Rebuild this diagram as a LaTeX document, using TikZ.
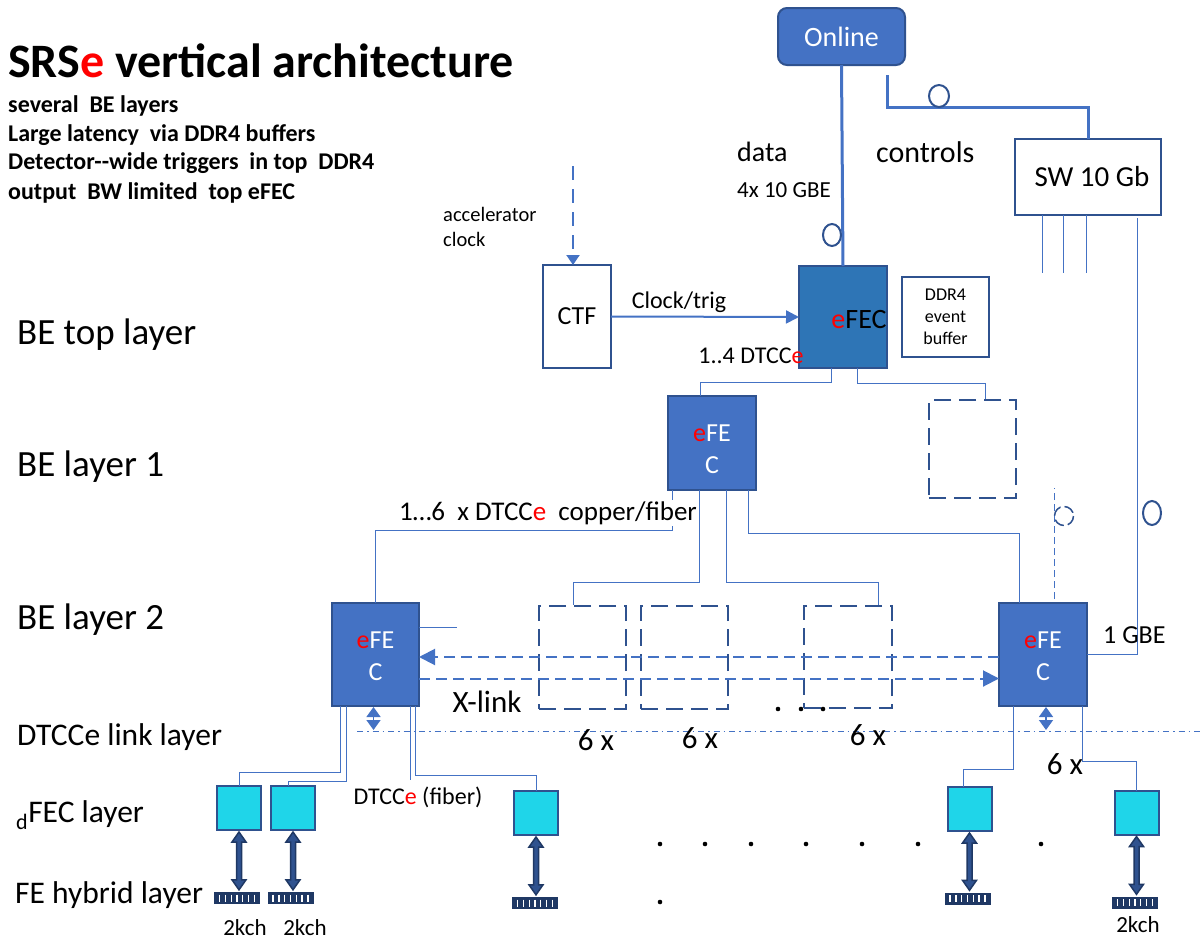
\documentclass[tikz,border=0pt]{standalone}
\usepackage{fontspec}
\setmainfont{Carlito}
\usetikzlibrary{arrows.meta,calc}
\definecolor{mblue}{HTML}{4472C4}
\definecolor{dblue}{HTML}{2F528F}
\definecolor{tblue}{HTML}{2E75B6}
\definecolor{cyanf}{HTML}{1FD5E9}
\definecolor{navy}{HTML}{1F3864}
\definecolor{ared}{HTML}{FF0000}
\newcommand\fs[1]{\fontsize{#1}{#1}\selectfont}
\newcommand\re{\textcolor{ared}{e}}
\newcommand\bidirarrow[2]{%
  \path (#1) coordinate (ba) (#2) coordinate (bb);
  \draw[bidirst] let \p1=(ba), \p2=(bb) in
    (\x1,\y1) -- (\x1+7pt,\y1-10pt) -- (\x1+2.5pt,\y1-10pt) -- (\x1+2.5pt,\y2+10pt)
    -- (\x1+7pt,\y2+10pt) -- (\x1,\y2) -- (\x1-7pt,\y2+10pt) -- (\x1-2.5pt,\y2+10pt)
    -- (\x1-2.5pt,\y1-10pt) -- (\x1-7pt,\y1-10pt) -- cycle;}
\begin{document}
\begin{tikzpicture}[x=1pt,y=-1pt,
  box/.style={draw=dblue, line width=2pt, inner sep=0pt, outer sep=0pt},
  fecbox/.style={box, fill=mblue},
  fectext/.style={text=white, font=\fontsize{26}{32}\selectfont, align=center, inner sep=0pt},
  dashbox/.style={draw=dblue, line width=2pt, dash pattern=on 17pt off 8pt, inner sep=0pt, minimum width=87, minimum height=103},
  conn/.style={draw=mblue, line width=1pt},
  thick conn/.style={draw=mblue, line width=3pt},
  dfec/.style={box, fill=cyanf, minimum width=44, minimum height=44},
  hyb/.style={fill=navy, inner sep=0pt, minimum width=46, minimum height=12},
  layerlab/.style={anchor=west, inner sep=0pt, font=\fs{31.5}},
  belab/.style={anchor=west, inner sep=0pt, font=\fs{37}},
  sub/.style={anchor=west, inner sep=0pt, font=\bfseries\fs{24}},
  txt/.style={inner sep=0pt},
  xl/.style={draw=mblue, line width=2pt, dash pattern=on 11pt off 6pt, -{Triangle[length=16pt,width=16pt]}},
  bidirst/.style={draw=navy, line width=1.5pt, fill=dblue},
  smallbi/.style={draw=mblue, line width=1.5pt, {Triangle[length=10pt,width=14pt]}-{Triangle[length=10pt,width=14pt]}},
  dot/.style={fill=black}
]
\useasboundingbox (0,0) rectangle (1203,945);

% Title and notes
\node[anchor=base west, inner sep=0pt, font=\bfseries\fs{48}] (title) at (8,77) {SRS\re\ vertical architecture};
\node[sub] (s1) at (8,106) {several\ \ BE layers};
\node[sub] (s2) at (8,135) {Large latency\ \ via DDR4 buffers};
\node[sub] (s3) at (8,163) {Detector-{}-wide triggers\ \ in top\ \ DDR4};
\node[sub] (s4) at (8,193) {output\ \ BW limited\ \ top eFEC};

% Layer labels
\node[belab] (l1) at (17,335) {BE top layer};
\node[belab] (l2) at (17,467) {BE layer 1};
\node[belab] (l3) at (17,620) {BE layer 2};
\node[layerlab] (l4) at (17,737) {DTCCe link layer};
\node[layerlab] (l5) at (16,815) {\textsubscript{d}FEC layer};
\node[layerlab] (l6) at (15,895) {FE hybrid layer};

% Online and switch
\node[box, fill=mblue, rounded corners=9pt, minimum width=127, minimum height=57, text=white, font=\fs{28}] (online) at (841.5,36.5) {Online};
\node[box, fill=white, minimum width=146, minimum height=76, font=\fs{29}] (sw) at (1088,177) {\hspace{8pt}SW 10 Gb};

% Top layer boxes
\node[box, fill=white, minimum width=68, minimum height=103, font=\fs{26}] (ctf) at (577,316.5) {CTF};
\node[box, fill=tblue, minimum width=88, minimum height=102] (efec) at (843,317) {};
\node[txt, font=\fs{28}] (efect) at (859,320) {\re FEC};
\node[box, fill=white, minimum width=87, minimum height=80, align=center, font=\fontsize{18}{22}\selectfont] (ddr) at (945.5,317) {DDR4\\event\\buffer};

% BE layer 1
\node[fecbox, minimum width=88, minimum height=94] (efec1) at (712,443) {};
\node[fectext] at ($(efec1.center)+(0,6)$) {\re FE\\C};
\node[dashbox, minimum width=87, minimum height=98] (db0) at (972.5,449) {};

% BE layer 2
\node[fecbox, minimum width=87, minimum height=103] (efec2l) at (375.5,654.5) {};
\node[fectext] at ($(efec2l.center)+(0,2)$) {\re FE\\C};
\node[fecbox, minimum width=88, minimum height=103] (efec2r) at (1043,654.5) {};
\node[fectext] at ($(efec2r.center)+(0,2)$) {\re FE\\C};
\node[dashbox] (dba) at (582.5,657.5) {};
\node[dashbox] (dbb) at (684.5,657.5) {};
\node[dashbox, minimum width=88, minimum height=102] (dbc) at (848,657) {};

% dFEC boxes
\node[dfec] (d1) at (239,808) {};
\node[dfec] (d2) at (293,808) {};
\node[dfec] (d3) at (536,813) {};
\node[dfec] (d4) at (969.5,809) {};
\node[dfec] (d5) at (1136.5,812.5) {};

% hybrids
\node[hyb] (h1) at (237,898) {};
\node[hyb] (h2) at (290.5,898) {};
\node[hyb] (h3) at (535,903) {};
\node[hyb] (h4) at (967.5,898.5) {};
\node[hyb] (h5) at (1135,902.5) {};
\foreach \h in {h1,h2,h3,h4,h5}{
  \foreach \k in {1,...,7}{
    \draw[white, line width=1.3pt] ($(\h.west)!{\k/8}!(\h.east)$) +(0,-3.5) -- +(0,3.5);
  }
}

% data / controls
\draw[thick conn] (online.south) -- (efec.north);
\draw[dblue, line width=2pt] (832,235) ellipse (9 and 11);
\coordinate (ctlsrc) at (887,75);
\draw[thick conn] (ctlsrc) |- ($(sw.north)+(0,-32)$) -- (sw.north);
\draw[dblue, line width=2pt] (939,96) ellipse (10 and 11);
\node[txt, font=\fs{28}, anchor=west] (datal) at (737,152) {data};
\node[txt, font=\fs{23}, anchor=west] (gbel) at (737,190) {4x 10 GBE};
\node[txt, font=\fs{30}, anchor=west] (ctll) at (876,152) {controls};

% switch outputs
\draw[conn] ($(sw.south west)+(27,0)$) -- ++(0,58);
\draw[conn] ($(sw.south west)+(48,0)$) -- ++(0,58);
\draw[conn] ($(sw.south west)+(71,0)$) -- ++(0,58);
\coordinate (swout) at ($(sw.south west)+(122,3)$);
\draw[conn] (swout) |- (efec2r.east);
\draw[dblue, line width=2pt] (1152,513) ellipse (9 and 12);
\node[txt, font=\fs{26}, anchor=west] (gbe1) at (1103,635) {1 GBE};

% clock
\coordinate (accsrc) at (573,166);
\draw[draw=mblue, line width=2pt, dash pattern=on 14pt off 9pt, -{Triangle[length=10pt,width=13pt]}] (accsrc) -- (accsrc |- ctf.north);
\node[txt, font=\fs{20.5}, anchor=west, align=left] (accl) at (443,227) {accelerator\\[4pt]clock};
\draw[draw=mblue, line width=2pt, -{Triangle[length=13pt,width=13pt]}] (ctf.east) -- (efec.west);
\node[txt, font=\fs{24}] (ctl) at (679,302) {Clock/trig};
\node[txt, font=\fs{24}] (dt4) at (751,356) {1..4 DTCC\re};

% top -> layer 1
\draw[conn] ($(efec.south west)+(32,0)$) -- ++(0,14) -| ($(efec1.north west)+(32,0)$);
\draw[conn] ($(efec.south west)+(58,0)$) -- ++(0,15) -| ($(db0.north west)+(57,0)$);

% layer 1 -> layer 2
\draw[conn] ($(efec1.south west)+(4,0)$) -- ++(0,40) -| (efec2l.north);
\draw[conn] ($(efec1.south west)+(31,0)$) -- ++(0,92) -| ($(dba.north west)+(35,0)$);
\draw[conn] ($(efec1.south west)+(58,0)$) -- ++(0,92) -| ($(dbc.north west)+(75,0)$);
\draw[conn] ($(efec1.south west)+(80,0)$) -- ++(0,43) -| ($(efec2r.north west)+(20,0)$);
\node[txt, font=\fs{27}, fill=white, inner sep=1pt] (dt6) at (548,513) {1…6\ \ x DTCC\re\ \ copper/fiber};
\draw[conn] ($(efec2l.north east)+(0,24)$) -- ++(38,0);
\draw[draw=mblue, line width=1pt, dash pattern=on 7pt off 4pt] ($(efec2r.north west)+(55,-4)$) -- ++(0,-111);
\draw[dblue, line width=1.5pt, dash pattern=on 11pt off 4pt] (1064,516) circle (9.5);

% X-link
\draw[xl] ($(efec2r.west)+(0,2.5)$) -- ($(efec2l.east)+(0,2.5)$);
\draw[xl] ($(efec2l.east)+(0,24)$) -- ($(efec2r.west)+(0,24)$);
\node[txt, font=\fs{31}] (xll) at (487,702) {X-link};
\fill[dot] (778,709) circle (2.3);
\fill[dot] (801,709) circle (2.3);
\fill[dot] (823,709) circle (2.3);

% DTCCe link layer
\coordinate (dl0) at (357,731);
\coordinate (dl1) at (1203,731);
\draw[draw=mblue, line width=1pt, dash pattern=on 6pt off 4pt on 1.5pt off 4pt] (dl0) -- (dl1);
\draw[smallbi] ($(efec2l.south)+(-2,1)$) -- ($(efec2l.south)+(-2,24)$);
\draw[smallbi] ($(efec2r.south)+(3,1)$) -- ($(efec2r.south)+(3,24)$);
\node[txt, font=\fs{31}] (x1) at (596,740) {6 x};
\node[txt, font=\fs{31}] (x2) at (700,738) {6 x};
\node[txt, font=\fs{31}] (x3) at (868,735) {6 x};
\node[txt, font=\fs{31}] (x4) at (1065,764) {6 x};

% layer 2 -> dFEC
\draw[conn] ($(efec2l.south west)+(8,0)$) -- ++(0,66) -| (d1.north);
\draw[conn] ($(efec2l.south west)+(14,0)$) -- ++(0,75) -| ($(d2.north west)+(17,0)$);
\draw[conn] ($(efec2l.south east)+(-9,0)$) -- ++(0,74);
\draw[conn] ($(efec2l.south east)+(-4,0)$) -- ++(0,69) -| (d3.north);
\draw[conn] ($(efec2r.south west)+(14,0)$) -- ++(0,63) -| ($(d4.north west)+(16,0)$);
\draw[conn] ($(efec2r.south east)+(-5,0)$) -- ++(0,55) -| (d5.north);
\node[txt, font=\fs{24}] (fib) at (418,797) {DTCC\re\ (fiber)};

% dFEC <-> hybrid
\bidirarrow{$(d1.south)+(0,2)$}{$(h1.north)+(2,-2)$}
\bidirarrow{$(d2.south)+(0,2)$}{$(h2.north)+(2.5,-2)$}
\bidirarrow{$(d3.south)+(0,2)$}{$(h3.north)+(1,-2)$}
\bidirarrow{$(d4.south)+(0,2)$}{$(h4.north)+(2,-2)$}
\bidirarrow{$(d5.south)+(0,2)$}{$(h5.north)+(1.5,-2)$}

\node[txt, font=\fs{23}] (k1) at (245,928) {2kch};
\node[txt, font=\fs{23}] (k2) at (305,928) {2kch};
\node[txt, font=\fs{23}] (k3) at (1138,925) {2kch};

% dots
\foreach \x in {660,705,751,806,862,918,1041}{\fill[dot] (\x,844) circle (2.3);}
\fill[dot] (660,902) circle (2.3);
\end{tikzpicture}
\end{document}
